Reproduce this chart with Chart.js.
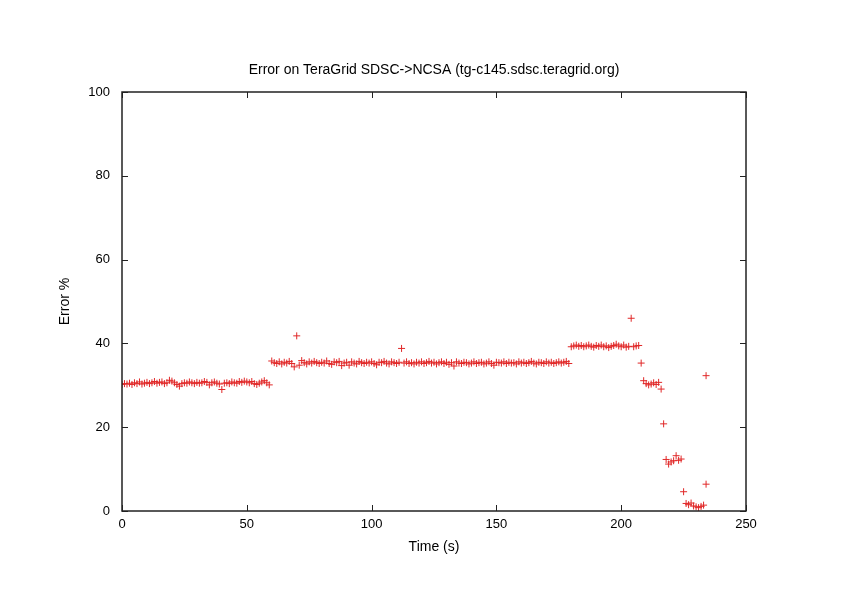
<!DOCTYPE html>
<html>
<head>
<meta charset="utf-8">
<script src="https://cdn.jsdelivr.net/npm/chart.js@4/dist/chart.umd.min.js"></script>
<style>
  html, body { margin: 0; padding: 0; background: #fff; }
  #errChart { display: block; }
</style>
</head>
<body>
<canvas id="errChart" width="842" height="595"></canvas>
<script>
// Error % sampled once per second, t = 0 .. 233 s
const errorPct = [
  // 0 - 59 s
  30.2, 30.4, 30.3, 30.5, 30.2, 30.6, 30.4, 30.8, 30.3, 30.5,
  30.7, 30.4, 30.6, 30.9, 30.5, 30.7, 30.8, 30.4, 30.6, 31.2,
  31.0, 30.6, 30.2, 29.8, 30.4, 30.6, 30.5, 30.8, 30.6, 30.4,
  30.7, 30.5, 30.6, 30.9, 30.7, 30.1, 30.6, 30.8, 30.5, 30.3,
  29.0, 30.5, 30.6, 30.4, 30.8, 30.6, 30.5, 30.9, 30.7, 31.0,
  30.8, 30.6, 30.9, 30.4, 30.2, 30.5, 30.8, 31.1, 30.6, 30.1,
  // 60 - 179 s
  35.8, 35.4, 35.2, 35.6, 35.1, 35.5, 35.3, 35.7, 35.2, 34.4,
  41.8, 34.8, 35.9, 35.4, 35.1, 35.6, 35.3, 35.7, 35.4, 35.2,
  35.5, 35.3, 35.8, 35.2, 35.0, 35.6, 35.4, 35.7, 34.7, 35.3,
  35.5, 34.8, 35.6, 35.3, 35.1, 35.7, 35.4, 35.2, 35.5, 35.3,
  35.6, 35.2, 34.9, 35.5, 35.4, 35.7, 35.3, 35.1, 35.6, 35.4,
  35.2, 35.5, 38.8, 35.3, 35.6, 35.2, 35.4, 35.1, 35.5, 35.3,
  35.6, 35.2, 35.4, 35.7, 35.3, 35.5, 35.1, 35.4, 35.6, 35.2,
  35.5, 35.0, 35.4, 34.6, 35.6, 35.3, 35.2, 35.5, 35.4, 35.1,
  35.3, 35.6, 35.2, 35.4, 35.5, 35.1, 35.3, 35.6, 35.2, 34.8,
  35.5, 35.4, 35.3, 35.6, 35.2, 35.5, 35.3, 35.4, 35.1, 35.6,
  35.3, 35.5, 35.2, 35.4, 35.7, 35.3, 35.1, 35.5, 35.4, 35.2,
  35.6, 35.3, 35.5, 35.2, 35.4, 35.6, 35.3, 35.5, 35.7, 35.2,
  // 180 - 207 s
  39.2, 39.4, 39.6, 39.3, 39.5, 39.2, 39.4, 39.6, 39.3, 39.1,
  39.5, 39.3, 39.6, 39.2, 39.4, 39.0, 39.3, 39.5, 39.8, 39.4,
  39.2, 39.6, 39.1, 39.3, 46.0, 39.2, 39.4, 39.5,
  // 208 - 233 s
  35.3, 31.1, 30.4, 30.1, 30.3, 30.6, 30.2, 30.7, 29.1, 20.8,
  12.3, 11.2, 11.7, 12.0, 13.2, 12.1, 12.4, 4.6, 1.8, 1.5,
  1.9, 1.2, 1.0, 0.8, 1.1, 1.4
];

// two last readings at the end of the run
const extraTimes = [234, 234];
const extraErrors = [32.3, 6.4];

const xTicks = [0, 50, 100, 150, 200, 250];
const yTicks = [0, 20, 40, 60, 80, 100];

const chartTitle = 'Error on TeraGrid SDSC->NCSA (tg-c145.sdsc.teragrid.org)';
const FONT = "'Liberation Sans', Arial, Helvetica, sans-serif";

function buildPoints() {
  const pts = errorPct.map((v, i) => ({ x: i, y: v }));
  extraTimes.forEach((t, i) => pts.push({ x: t, y: extraErrors[i] }));
  return pts;
}

// gnuplot style frame with inward ticks on all four sides, title over the plot box
const framePlugin = {
  id: 'frame',
  afterDatasetsDraw(chart) {
    const { ctx, chartArea: a, scales } = chart;
    const len = 6;
    ctx.save();
    ctx.strokeStyle = '#222';
    ctx.lineWidth = 1;
    xTicks.forEach((v) => {
      const px = Math.round(scales.x.getPixelForValue(v)) + 0.5;
      ctx.beginPath();
      ctx.moveTo(px, a.bottom); ctx.lineTo(px, a.bottom - len);
      ctx.moveTo(px, a.top); ctx.lineTo(px, a.top + len);
      ctx.stroke();
    });
    yTicks.forEach((v) => {
      const py = Math.round(scales.y.getPixelForValue(v)) + 0.5;
      ctx.beginPath();
      ctx.moveTo(a.left, py); ctx.lineTo(a.left + len, py);
      ctx.moveTo(a.right, py); ctx.lineTo(a.right - len, py);
      ctx.stroke();
    });
    ctx.lineWidth = 1.5;
    ctx.strokeRect(a.left, a.top, a.right - a.left, a.bottom - a.top);

    ctx.fillStyle = '#000';
    ctx.font = '14px ' + FONT;
    ctx.textAlign = 'center';
    ctx.textBaseline = 'middle';
    ctx.fillText(chartTitle, (a.left + a.right) / 2, 70);
    ctx.restore();
  },
};

function createChart() {
  const ctx = document.getElementById('errChart').getContext('2d');
  return new Chart(ctx, {
    type: 'scatter',
    data: {
      datasets: [{
        label: 'Error %',
        data: buildPoints(),
        pointStyle: 'cross',
        pointRadius: 3.5,
        pointBorderWidth: 1,
        borderColor: 'rgb(225, 40, 40)',
        backgroundColor: 'rgb(225, 40, 40)',
        showLine: false,
      }],
    },
    options: {
      responsive: false,
      animation: false,
      devicePixelRatio: 1,
      layout: { padding: { left: 0, right: 96, top: 92, bottom: 0 } },
      plugins: {
        legend: { display: false },
        tooltip: { enabled: false },
        title: { display: false },
      },
      scales: {
        x: {
          type: 'linear',
          min: 0,
          max: 250,
          afterBuildTicks: (s) => { s.ticks = xTicks.map((v) => ({ value: v })); },
          afterFit: (s) => { s.height = 84; },
          grid: { display: false, drawTicks: false },
          border: { display: false },
          ticks: { color: '#000', padding: 6, font: { family: FONT, size: 13 } },
          title: {
            display: true,
            text: 'Time (s)',
            color: '#000',
            font: { family: FONT, size: 14 },
            padding: { top: 0, bottom: 39.6 },
          },
        },
        y: {
          type: 'linear',
          min: 0,
          max: 100,
          afterBuildTicks: (s) => { s.ticks = yTicks.map((v) => ({ value: v })); },
          afterFit: (s) => { s.width = 122; },
          grid: { display: false, drawTicks: false },
          border: { display: false },
          ticks: { color: '#000', padding: 12, font: { family: FONT, size: 13 } },
          title: {
            display: true,
            text: 'Error %',
            color: '#000',
            font: { family: FONT, size: 14 },
            padding: { top: 57, bottom: 0 },
          },
        },
      },
    },
    plugins: [framePlugin],
  });
}

document.addEventListener('DOMContentLoaded', createChart);
</script>
</body>
</html>
